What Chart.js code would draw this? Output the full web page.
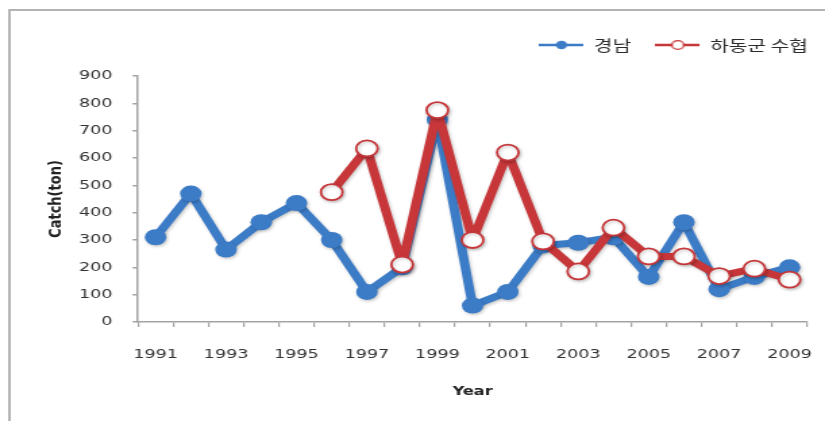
<!DOCTYPE html>
<html lang="ko">
<head>
<meta charset="utf-8">
<title>경남 · 하동군 수협 어획량</title>
<script src="https://cdn.jsdelivr.net/npm/chart.js@4.4.1/dist/chart.umd.min.js"></script>
<style>
  html, body { margin: 0; padding: 0; background: #fff; overflow: hidden; }
</style>
</head>
<body>
<!-- drawn on a narrower canvas and widened by CSS, giving the wide lettering and oval markers -->
<canvas id="chart" width="611" height="421" style="display:block;width:825px;height:421px;"></canvas>
<script>
// Years on the category axis
const years = ['1991','1992','1993','1994','1995','1996','1997','1998','1999','2000',
               '2001','2002','2003','2004','2005','2006','2007','2008','2009'];
// Years that carry a printed label
const yearTicks = ['1991','1993','1995','1997','1999','2001','2003','2005','2007','2009'];

// Catch (ton), Gyeongnam province
const gyeongnam = [310, 470, 265, 365, 435, 300, 110, 200, 740, 60,
                   110, 280, 290, 310, 165, 365, 120, 165, 200];
// Catch (ton), Hadong-gun fisheries cooperative (records start in 1996)
const hadong = [null, null, null, null, null, 475, 635, 210, 775, 300,
                620, 295, 185, 345, 240, 240, 168, 195, 155];

// Value axis
const yMin = 0, yMax = 900, yStep = 100;

const BLUE = '#3c7cc7';
const RED = '#c7373a';
const AXIS = '#a3a3a3';

// Legend swatches: a short line with the series marker on it
function legendIcon(color, hollow) {
  const c = document.createElement('canvas');
  c.width = 33; c.height = 14;
  const g = c.getContext('2d');
  g.strokeStyle = color;
  g.lineWidth = 2.6;
  g.beginPath(); g.moveTo(0, 7); g.lineTo(33, 7); g.stroke();
  g.beginPath(); g.arc(16.5, 7, hollow ? 4.4 : 4.2, 0, Math.PI * 2);
  if (hollow) {
    g.fillStyle = '#fff'; g.fill();
    g.lineWidth = 1.3; g.stroke();
  } else {
    g.fillStyle = color; g.fill();
  }
  return c;
}
const legendIcons = [legendIcon(BLUE, false), legendIcon(RED, true)];

// White page with the grey frame around the figure
const framePlugin = {
  id: 'frame',
  beforeDraw(chart) {
    const ctx = chart.ctx;
    ctx.save();
    ctx.fillStyle = '#fff';
    ctx.fillRect(0, 0, chart.width, chart.height);
    ctx.strokeStyle = '#b3b3b3';
    ctx.lineWidth = 2;
    ctx.strokeRect(7, 10, chart.width + 50, chart.height + 50);
    ctx.restore();
  }
};

// Places the legend row above the plot, flush with the right edge
const legendPlacement = {
  id: 'legendPlacement',
  afterLayout(chart) {
    const lg = chart.legend;
    if (!lg) return;
    const dy = -13.5, dx = 18.5;
    lg.top += dy; lg.bottom += dy;
    lg.left += dx; lg.right += dx;
  }
};

// Soft drop shadow under the lines and markers
const shadowPlugin = {
  id: 'softShadow',
  beforeDatasetDraw(chart) {
    const ctx = chart.ctx;
    ctx.save();
    ctx.shadowColor = 'rgba(0,0,0,0.22)';
    ctx.shadowBlur = 3;
    ctx.shadowOffsetX = 1;
    ctx.shadowOffsetY = 1.5;
  },
  afterDatasetDraw(chart) {
    chart.ctx.restore();
  }
};

new Chart(document.getElementById('chart'), {
  type: 'line',
  data: {
    labels: years,
    datasets: [
      {
        label: '경남',
        data: gyeongnam,
        order: 1,
        borderColor: BLUE,
        backgroundColor: BLUE,
        borderWidth: 7,
        borderJoinStyle: 'round',
        borderCapStyle: 'round',
        pointRadius: 8,
        pointHoverRadius: 8,
        pointBackgroundColor: BLUE,
        pointBorderColor: BLUE,
        pointBorderWidth: 0,
        tension: 0
      },
      {
        label: '하동군 수협',
        data: hadong,
        order: 0,
        borderColor: RED,
        backgroundColor: RED,
        borderWidth: 7,
        borderJoinStyle: 'round',
        borderCapStyle: 'round',
        pointRadius: 8,
        pointHoverRadius: 8,
        pointBackgroundColor: '#ffffff',
        pointBorderColor: RED,
        pointBorderWidth: 1.8,
        tension: 0,
        spanGaps: false
      }
    ]
  },
  options: {
    responsive: false,
    devicePixelRatio: 1,
    animation: false,
    events: [],
    layout: { padding: { left: 0, right: 13.2, top: 33, bottom: 0 } },
    plugins: {
      tooltip: { enabled: false },
      legend: {
        position: 'top',
        align: 'end',
        labels: {
          usePointStyle: true,
          pointStyleWidth: 33,
          padding: 18,
          color: '#2b2b2b',
          font: { family: '"Noto Sans CJK KR", "Noto Sans", sans-serif', size: 15 },
          generateLabels(chart) {
            return chart.data.datasets.map((ds, i) => ({
              text: ds.label,
              pointStyle: legendIcons[i],
              fillStyle: ds.borderColor,
              strokeStyle: ds.borderColor,
              lineWidth: 0,
              fontColor: '#2b2b2b',
              hidden: false,
              datasetIndex: i
            }));
          }
        }
      }
    },
    scales: {
      x: {
        type: 'category',
        offset: true,
        grid: {
          display: true,
          offset: true,
          drawOnChartArea: false,
          drawTicks: true,
          tickLength: 5,
          color: AXIS,
          lineWidth: 1.2
        },
        border: { display: true, color: AXIS, width: 1.5 },
        ticks: {
          autoSkip: false,
          maxRotation: 0,
          minRotation: 0,
          padding: 20,
          color: '#333',
          font: { family: '"DejaVu Sans", Verdana, sans-serif', size: 13 },
          callback(value, index) {
            const y = years[index];
            return yearTicks.includes(y) ? y : '';
          }
        },
        title: {
          display: true,
          text: 'Year',
          color: '#222',
          font: { family: '"DejaVu Sans", Verdana, sans-serif', size: 12, weight: 'bold' },
          padding: { top: 0, bottom: 22 }
        },
        afterFit(scale) {
          // fixed axis band; the end labels fit inside the side margins
          scale.height = 99;
          scale.paddingLeft = 0;
          scale.paddingRight = 0;
        }
      },
      y: {
        min: yMin,
        max: yMax,
        ticks: {
          stepSize: yStep,
          padding: 15,
          color: '#333',
          font: { family: '"DejaVu Sans", Verdana, sans-serif', size: 13 }
        },
        grid: {
          display: true,
          drawOnChartArea: false,
          drawTicks: true,
          tickLength: 4,
          color: AXIS,
          lineWidth: 1.5
        },
        border: { display: true, color: AXIS, width: 1.5 },
        title: {
          display: true,
          text: 'Catch(ton)',
          color: '#222',
          font: { family: '"DejaVu Sans", Verdana, sans-serif', size: 13, weight: 'bold' },
          padding: { top: 34, bottom: 0 }
        },
        afterFit(scale) { scale.width = 102.2; }
      }
    }
  },
  plugins: [framePlugin, legendPlacement, shadowPlugin]
});
</script>
</body>
</html>
